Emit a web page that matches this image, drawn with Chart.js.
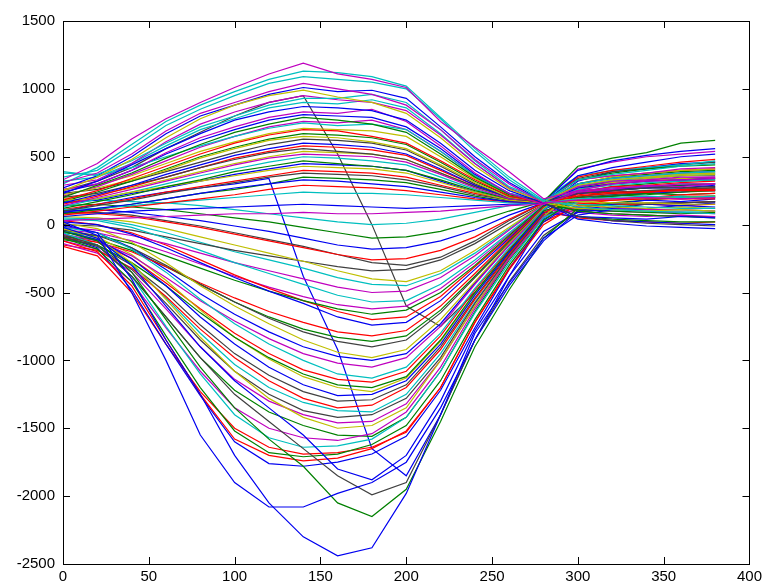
<!DOCTYPE html>
<html>
<head>
  <title>Traces</title>
  <script src="https://cdn.jsdelivr.net/npm/chart.js"></script>
  <style>
    body { margin: 0; background: #fff; }
    canvas { display: block; }
  </style>
</head>
<body>
  <canvas id="chart" width="766" height="583"></canvas>
  <script>
    // sample positions shared by every trace
    const xs = [0, 20, 40, 60, 80, 100, 120, 140, 160, 180, 200, 220, 240, 260, 280, 300, 320, 340, 360, 380];
    const xTicks = [0, 50, 100, 150, 200, 250, 300, 350, 400];
    const yTicks = [-2500, -2000, -1500, -1000, -500, 0, 500, 1000, 1500];

    // traces that bulge upwards
    const u01 = [330, 450, 630, 780, 900, 1010, 1110, 1190, 1110, 1070, 1010, 760, 570, 390, 190, 250, 270, 280, 300, 300];
    const u02 = [350, 400, 560, 730, 850, 950, 1040, 1090, 1070, 1050, 1000, 780, 540, 330, 170, 330, 370, 400, 430, 450];
    const u03 = [310, 380, 520, 690, 820, 900, 980, 1040, 1000, 960, 880, 700, 480, 300, 160, 180, 190, 200, 190, 200];
    const u04 = [250, 350, 480, 640, 780, 880, 950, 990, 940, 900, 820, 640, 430, 260, 170, 290, 330, 350, 370, 380];
    const u05 = [380, 370, 470, 600, 720, 800, 880, 930, 930, 960, 900, 700, 470, 280, 180, 130, 110, 100, 90, 80];
    const u06 = [230, 320, 440, 560, 670, 770, 830, 870, 860, 840, 770, 600, 400, 250, 160, 360, 420, 460, 500, 520];
    const u07 = [260, 300, 400, 530, 640, 720, 790, 830, 820, 850, 760, 580, 380, 230, 150, 240, 260, 290, 280, 300];
    const u08 = [200, 290, 380, 490, 590, 680, 740, 790, 770, 740, 680, 520, 350, 220, 170, 430, 490, 530, 600, 620];
    const u09 = [390, 360, 420, 500, 580, 650, 710, 750, 730, 740, 700, 540, 360, 230, 180, 300, 340, 360, 380, 390];
    const u10 = [180, 250, 340, 430, 520, 600, 660, 700, 690, 650, 600, 470, 330, 210, 160, 210, 230, 240, 250, 250];
    const u11 = [220, 270, 330, 400, 490, 560, 620, 650, 640, 610, 560, 440, 310, 200, 170, 170, 160, 160, 150, 150];
    const u12 = [160, 220, 290, 370, 440, 510, 560, 600, 590, 570, 520, 410, 290, 200, 170, 400, 470, 510, 540, 560];
    const u13 = [200, 230, 290, 350, 420, 480, 530, 560, 540, 520, 480, 380, 280, 200, 160, 60, 30, 10, 0, -10];
    const u14 = [140, 200, 260, 320, 380, 440, 490, 520, 510, 500, 460, 370, 270, 190, 170, 280, 320, 330, 350, 350];
    const u15 = [120, 170, 220, 280, 330, 390, 430, 470, 450, 430, 400, 330, 250, 190, 170, 330, 380, 410, 430, 440];
    const u16 = [180, 190, 240, 280, 320, 360, 400, 430, 420, 410, 380, 310, 240, 180, 160, 120, 110, 100, 110, 100];
    const u17 = [100, 140, 180, 230, 270, 310, 350, 380, 370, 360, 330, 280, 220, 180, 170, 230, 250, 270, 270, 280];
    const u18 = [90, 120, 150, 190, 230, 270, 300, 330, 320, 300, 280, 240, 200, 170, 160, 40, 10, -10, -20, -30];
    const u19 = [70, 100, 130, 160, 190, 220, 260, 290, 280, 270, 250, 220, 190, 170, 160, 350, 400, 430, 460, 480];
    const u20 = [110, 120, 140, 160, 180, 200, 220, 240, 230, 230, 220, 200, 180, 160, 160, 190, 200, 210, 200, 210];
    const u21 = [60, 80, 100, 110, 120, 130, 140, 150, 140, 130, 120, 130, 140, 150, 160, 60, 50, 40, 60, 50];
    const u22 = [30, 40, 50, 60, 70, 80, 80, 90, 80, 80, 90, 100, 120, 140, 150, 250, 300, 320, 330, 340];
    const a01 = [300, 420, 590, 760, 880, 980, 1070, 1130, 1120, 1090, 1020, 790, 560, 350, 180, 360, 400, 420, 440, 470];
    const a02 = [270, 360, 500, 670, 800, 880, 960, 1010, 980, 990, 930, 720, 500, 310, 170, 230, 250, 270, 270, 290];
    const a03 = [290, 330, 450, 610, 740, 830, 900, 950, 920, 900, 840, 660, 450, 270, 160, 410, 460, 500, 520, 540];
    const a04 = [320, 350, 450, 580, 700, 780, 860, 900, 890, 920, 860, 670, 450, 270, 170, 150, 140, 130, 120, 120];
    const a05 = [240, 300, 400, 520, 620, 700, 770, 810, 800, 790, 720, 560, 370, 230, 160, 270, 300, 320, 330, 340];
    const a06 = [210, 280, 370, 470, 570, 650, 720, 760, 750, 770, 700, 540, 360, 230, 170, 330, 360, 380, 410, 420];
    const a07 = [260, 290, 360, 450, 540, 610, 670, 710, 700, 690, 650, 500, 340, 220, 170, 190, 190, 200, 200, 210];
    const a08 = [170, 240, 320, 410, 500, 570, 630, 670, 660, 640, 590, 460, 320, 210, 170, 100, 80, 70, 60, 50];
    const a09 = [230, 260, 320, 390, 460, 530, 590, 630, 620, 600, 550, 430, 300, 200, 170, 340, 390, 410, 440, 460];
    const a10 = [150, 210, 280, 350, 420, 490, 540, 580, 570, 550, 510, 400, 290, 200, 170, 220, 240, 240, 260, 260];
    const a11 = [190, 220, 270, 330, 390, 450, 500, 540, 530, 520, 480, 380, 280, 200, 170, 140, 130, 120, 130, 120];
    const a12 = [130, 190, 240, 300, 360, 410, 460, 500, 490, 470, 440, 350, 260, 190, 170, 260, 290, 310, 320, 330];
    const a13 = [160, 180, 230, 270, 320, 370, 410, 450, 440, 430, 400, 320, 240, 180, 160, 300, 340, 360, 380, 390];
    const a14 = [110, 150, 190, 240, 280, 320, 360, 400, 390, 380, 350, 290, 230, 180, 170, 180, 180, 190, 190, 190];
    const a15 = [80, 110, 150, 190, 230, 260, 300, 350, 340, 330, 310, 260, 210, 170, 160, 60, 40, 30, 20, 20];

    // traces that dip downwards
    const l01 = [0, -60, -400, -850, -1250, -1700, -2050, -2300, -2440, -2380, -1980, -1400, -800, -430, -100, 70, 110, 120, 140, 130];
    const l02 = [20, -80, -500, -1000, -1550, -1900, -2080, -2080, -1980, -1900, -1750, -1350, -850, -450, -120, 100, 150, 180, 170, 190];
    const l03 = [-50, -120, -350, -700, -1050, -1350, -1580, -1780, -2050, -2150, -1950, -1450, -900, -480, -100, 120, 160, 180, 200, 210];
    const l04 = [-80, -150, -380, -680, -980, -1250, -1450, -1650, -1850, -1990, -1900, -1400, -850, -420, -80, 100, 130, 150, 160, 170];
    const l05 = [-20, -100, -300, -600, -900, -1150, -1350, -1550, -1800, -1880, -1700, -1300, -780, -380, -50, 90, 120, 150, 140, 160];
    const l06 = [-120, -200, -450, -850, -1250, -1580, -1700, -1740, -1720, -1650, -1520, -1200, -720, -330, 0, 150, 180, 200, 220, 230];
    const l07 = [-100, -180, -420, -820, -1200, -1520, -1680, -1710, -1690, -1620, -1480, -1150, -700, -300, 30, 200, 250, 270, 290, 300];
    const l08 = [-60, -150, -380, -750, -1100, -1400, -1570, -1640, -1630, -1580, -1420, -1080, -650, -280, 50, 170, 190, 190, 210, 200];
    const l09 = [-140, -210, -420, -760, -1080, -1350, -1500, -1570, -1590, -1540, -1380, -1050, -620, -250, 60, 130, 120, 110, 110, 100];
    const l10 = [-30, -100, -280, -550, -830, -1080, -1280, -1420, -1500, -1480, -1350, -1000, -600, -250, 60, 260, 310, 340, 360, 370];
    const l11 = [-90, -160, -330, -580, -850, -1080, -1250, -1370, -1420, -1400, -1280, -980, -580, -230, 70, 140, 150, 160, 160, 170];
    const l12 = [-150, -190, -320, -530, -770, -980, -1150, -1280, -1350, -1330, -1200, -920, -550, -220, 80, 230, 280, 290, 310, 320];
    const l13 = [-50, -110, -250, -450, -680, -880, -1050, -1180, -1260, -1250, -1150, -880, -520, -200, 90, 60, 30, 20, 10, 0];
    const l14 = [-110, -150, -280, -450, -650, -830, -980, -1100, -1180, -1200, -1120, -850, -500, -190, 100, 180, 210, 220, 240, 250];
    const l15 = [-20, -60, -180, -350, -550, -730, -880, -1000, -1100, -1130, -1050, -800, -470, -170, 110, 280, 330, 350, 370, 380];
    const l16 = [-70, -120, -230, -390, -560, -710, -840, -950, -1020, -1050, -980, -750, -440, -150, 110, 90, 70, 60, 70, 60];
    const l17 = [10, -30, -130, -280, -450, -600, -730, -850, -940, -980, -920, -700, -420, -140, 120, 300, 350, 380, 400, 410];
    const l18 = [-40, -80, -170, -300, -440, -570, -690, -790, -860, -900, -850, -650, -390, -130, 120, 200, 220, 240, 260, 270];
    const l19 = [-100, -130, -200, -310, -430, -540, -640, -720, -790, -820, -780, -600, -360, -110, 130, 160, 150, 150, 140, 150];
    const l20 = [20, 0, -70, -170, -280, -390, -490, -580, -680, -740, -720, -560, -330, -100, 130, 320, 390, 420, 450, 460];
    const l21 = [-60, -80, -140, -230, -320, -410, -490, -560, -620, -660, -630, -500, -300, -80, 140, 110, 100, 90, 80, 90];
    const l22 = [40, 30, -20, -100, -190, -280, -360, -440, -520, -570, -560, -440, -260, -60, 140, 240, 270, 280, 300, 300];
    const l23 = [-20, -40, -80, -140, -210, -280, -340, -400, -460, -500, -490, -390, -230, -40, 150, 180, 190, 200, 190, 200];
    const l24 = [60, 50, 20, -30, -90, -150, -210, -270, -340, -400, -420, -340, -190, -20, 150, 270, 300, 320, 340, 340];
    const l25 = [0, -10, -40, -90, -140, -190, -230, -270, -310, -340, -330, -260, -140, 10, 150, 100, 80, 70, 60, 60];
    const l26 = [80, 80, 60, 20, -20, -70, -120, -170, -220, -260, -250, -190, -90, 40, 160, 330, 360, 380, 400, 410];
    const l27 = [100, 110, 90, 60, 30, -10, -50, -100, -150, -180, -170, -120, -40, 70, 160, 250, 260, 270, 290, 280];
    const l28 = [140, 150, 130, 110, 80, 50, 20, -20, -60, -100, -90, -50, 20, 100, 170, 200, 210, 230, 220, 230];
    const l29 = [170, 180, 170, 160, 140, 110, 80, 50, 20, 0, 10, 40, 90, 140, 170, 290, 320, 340, 360, 370];
    const b01 = [-90, -170, -480, -880, -1260, -1600, -1760, -1780, -1750, -1690, -1560, -1220, -760, -330, 20, 180, 210, 230, 240, 260];
    const b02 = [-160, -230, -500, -880, -1230, -1500, -1640, -1690, -1680, -1640, -1530, -1200, -720, -320, 20, 140, 150, 150, 160, 170];
    const b03 = [-70, -150, -380, -680, -980, -1220, -1380, -1480, -1550, -1560, -1420, -1080, -640, -260, 50, 240, 280, 300, 320, 330];
    const b04 = [-120, -180, -350, -620, -900, -1140, -1300, -1400, -1460, -1450, -1320, -1000, -600, -240, 60, 110, 100, 90, 90, 80];
    const b05 = [-40, -110, -290, -540, -800, -1030, -1200, -1310, -1370, -1380, -1250, -950, -570, -230, 70, 200, 220, 230, 250, 250];
    const b06 = [-100, -150, -300, -500, -740, -950, -1110, -1230, -1300, -1290, -1180, -900, -540, -210, 80, 270, 320, 340, 360, 360];
    const b07 = [-30, -90, -220, -410, -630, -830, -990, -1120, -1200, -1230, -1130, -860, -510, -200, 90, 170, 180, 190, 200, 200];
    const b08 = [-80, -130, -250, -430, -620, -800, -950, -1070, -1140, -1160, -1080, -820, -480, -180, 100, 50, 30, 20, 10, 20];
    const b09 = [-10, -60, -170, -330, -510, -660, -790, -900, -970, -1000, -950, -730, -430, -150, 110, 230, 260, 280, 290, 300];
    const b10 = [-90, -110, -190, -310, -440, -570, -680, -770, -830, -860, -820, -630, -380, -120, 120, 300, 350, 370, 390, 400];
    const b11 = [30, 0, -60, -150, -260, -370, -470, -560, -640, -700, -680, -530, -310, -90, 130, 180, 190, 200, 210, 210];
    const b12 = [-40, -60, -120, -200, -290, -380, -460, -530, -590, -620, -600, -470, -280, -70, 140, 280, 310, 330, 340, 350];
    const b13 = [50, 40, 0, -60, -130, -200, -260, -320, -390, -440, -450, -360, -210, -30, 150, 120, 110, 100, 100, 100];
    const b14 = [90, 90, 70, 30, -10, -60, -110, -160, -220, -280, -300, -240, -120, 30, 160, 230, 240, 250, 260, 260];

    // two traces that cross from the upper bundle into the lower one
    const x01 = [100, 150, 200, 240, 270, 300, 340, -380, -920, -1650, -1850, -1400, -850, -380, 40, 180, 220, 230, 250, 250];
    const x02 = [250, 320, 420, 560, 680, 800, 900, 950, 520, 0, -600, -750, -500, -200, 120, 210, 230, 250, 260, 270];

    const series = [u01, u02, u03, u04, u05, u06, u07, u08, u09, u10, u11, u12, u13, u14, u15, u16, u17, u18, u19, u20, u21, u22,
      a01, a02, a03, a04, a05, a06, a07, a08, a09, a10, a11, a12, a13, a14, a15,
      l01, l02, l03, l04, l05, l06, l07, l08, l09, l10, l11, l12, l13, l14, l15, l16, l17, l18, l19, l20, l21, l22, l23, l24, l25, l26, l27, l28, l29,
      b01, b02, b03, b04, b05, b06, b07, b08, b09, b10, b11, b12, b13, b14,
      x01, x02];
    const seriesColors = 'mcmycbmgcrybkmgykbrcbm' + 'cbmcbmygkrycbrg' +
      'bbgkbrgcmykrbgcmykrbgcmykrbgc' + 'brgmckyrbgrmck' + 'bk';

    const palette = { b: '#0000f0', g: '#008000', r: '#ff0000', c: '#00bfbf', m: '#bf00bf', y: '#bfbf00', k: '#404040' };

    const datasets = series.map((ys, i) => ({
      data: ys.map((v, j) => ({ x: xs[j], y: v })),
      borderColor: palette[seriesColors[i]],
      borderWidth: 1.2,
      pointRadius: 0,
      tension: 0,
      fill: false
    }));

    // MATLAB style box with inward ticks
    const boxTicks = {
      id: 'boxTicks',
      afterDraw(chart) {
        const { ctx, chartArea: a, scales: { x, y } } = chart;
        ctx.save();
        ctx.strokeStyle = '#000';
        ctx.lineWidth = 1;
        ctx.strokeRect(Math.round(a.left) + 0.5, Math.round(a.top) + 0.5, Math.round(a.width), Math.round(a.height));
        ctx.beginPath();
        xTicks.forEach(v => {
          const px = Math.round(x.getPixelForValue(v)) + 0.5;
          ctx.moveTo(px, a.bottom); ctx.lineTo(px, a.bottom - 7);
          ctx.moveTo(px, a.top); ctx.lineTo(px, a.top + 7);
        });
        yTicks.forEach(v => {
          const py = Math.round(y.getPixelForValue(v)) + 0.5;
          ctx.moveTo(a.left, py); ctx.lineTo(a.left + 7, py);
          ctx.moveTo(a.right, py); ctx.lineTo(a.right - 7, py);
        });
        ctx.stroke();
        ctx.restore();
      }
    };

    const tickFont = { family: 'Liberation Sans, Arial, sans-serif', size: 15 };

    new Chart(document.getElementById('chart'), {
      type: 'line',
      data: { datasets },
      options: {
        responsive: false,
        animation: false,
        layout: { padding: { top: 21, right: 14, left: 0, bottom: 0 } },
        plugins: { legend: { display: false }, tooltip: { enabled: false } },
        scales: {
          x: {
            type: 'linear', min: 0, max: 400,
            grid: { display: false, drawTicks: false },
            border: { display: false },
            ticks: { stepSize: 50, padding: 4, color: '#000', font: tickFont, maxRotation: 0, callback: v => String(v) },
            afterFit: s => { s.height = 19; }
          },
          y: {
            min: -2500, max: 1500,
            grid: { display: false, drawTicks: false },
            border: { display: false },
            ticks: { stepSize: 500, padding: 8, color: '#000', font: tickFont, callback: v => String(v) },
            afterFit: s => { s.width = 63; }
          }
        }
      },
      plugins: [boxTicks]
    });
  </script>
</body>
</html>
